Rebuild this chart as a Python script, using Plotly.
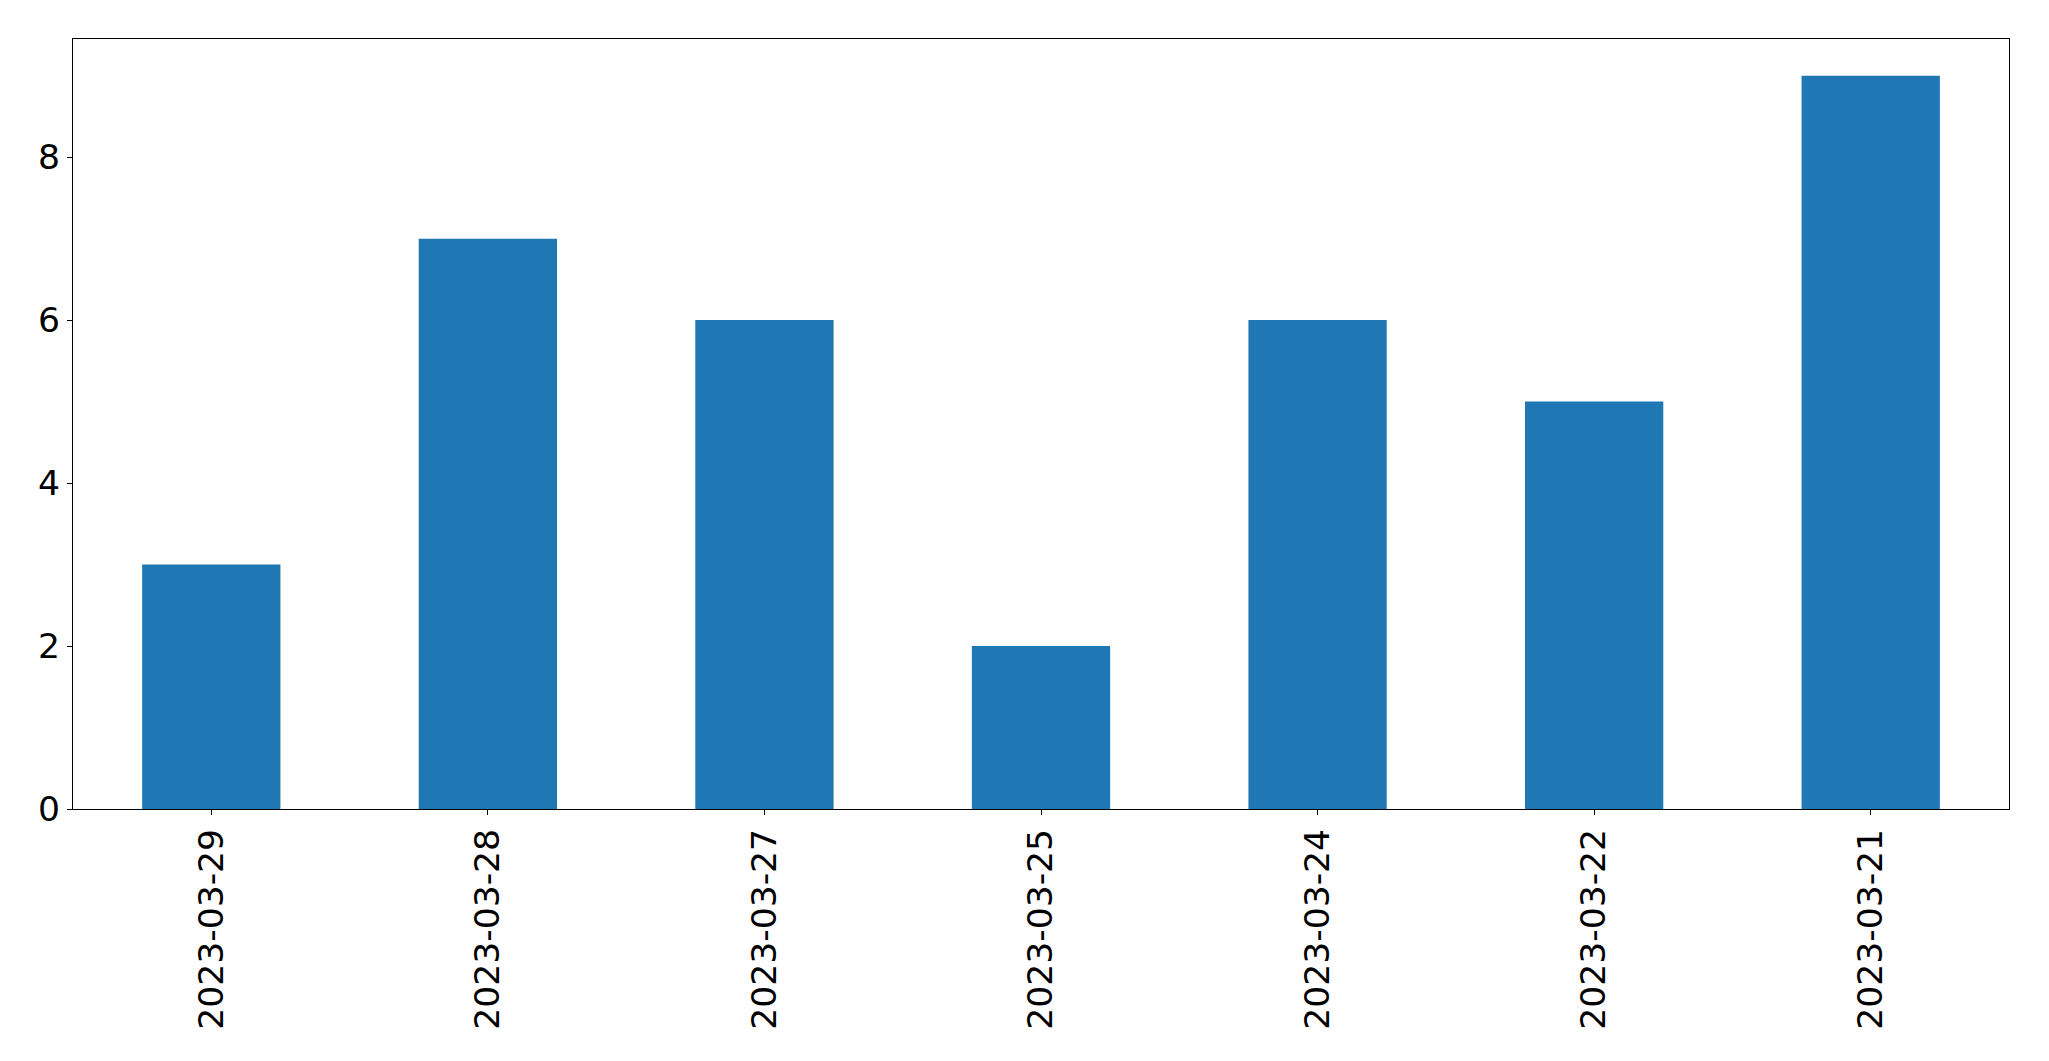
import plotly.graph_objects as go

dates = ["2023-03-29", "2023-03-28", "2023-03-27", "2023-03-25", "2023-03-24", "2023-03-22", "2023-03-21"]
counts = [3, 7, 6, 2, 6, 5, 9]
y_ticks = [0, 2, 4, 6, 8]

fig = go.Figure(go.Bar(x=dates, y=counts, marker=dict(color="#1f77b4", line=dict(width=0))))

W, H = 2049, 1061
left, right, top, bottom = 72.5, 2009.3, 39.3, 809
fig.update_layout(
    width=W, height=H,
    margin=dict(l=left, r=W - right, t=top, b=H - bottom, pad=0),
    paper_bgcolor="white", plot_bgcolor="white",
    bargap=0.5, showlegend=False,
    font=dict(family="DejaVu Sans", size=34.6, color="black"),
)
fig.update_xaxes(
    type="category", range=[-0.5, 6.5], tickangle=-90,
    showline=True, mirror=True, linecolor="black", linewidth=1.1,
    ticks="outside", ticklen=5, tickwidth=1.1, tickcolor="black",
    showgrid=False, zeroline=False,
)
fig.update_yaxes(
    range=[0, 9.45], tickvals=y_ticks,
    showline=True, mirror=True, linecolor="black", linewidth=1.1,
    ticks="outside", ticklen=5, tickwidth=1.1, tickcolor="black",
    showgrid=False, zeroline=False,
)
fig.write_html("out.html")
